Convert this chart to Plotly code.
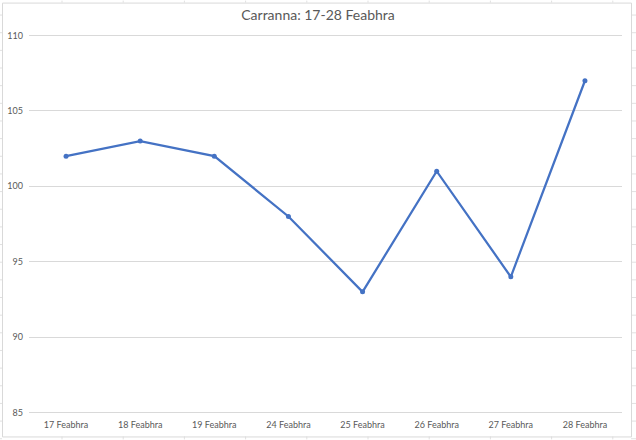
import plotly.graph_objects as go

title_text = "Carranna: 17-28 Feabhra"
categories = ["17 Feabhra", "18 Feabhra", "19 Feabhra", "24 Feabhra",
              "25 Feabhra", "26 Feabhra", "27 Feabhra", "28 Feabhra"]
values = [102, 103, 102, 98, 93, 101, 94, 107]
y_ticks = [85, 90, 95, 100, 105, 110]

W, H = 636, 440
L, R, T, B = 29, 14, 33.5, 25.5
pw, ph = W - L - R, H - T - B

def px(x):
    return (x - L) / pw

def py(y):
    return 1 - (y - T) / ph

fig = go.Figure()
fig.add_trace(go.Scatter(
    x=categories, y=values, mode="lines+markers",
    line=dict(color="#4472C4", width=2.25),
    marker=dict(color="#4472C4", size=5),
    hoverinfo="x+y", showlegend=False,
))

shapes = []
grid_col = "#e1e1e1"
# spreadsheet cell grid visible around the chart
rows = [14.5 + 17.7 * k for k in range(25)]
cols = [62 + 61.2 * k for k in range(10)]
for yy in rows:
    shapes.append(dict(type="line", xref="paper", yref="paper",
                       x0=px(631), x1=px(636), y0=py(yy), y1=py(yy),
                       line=dict(color=grid_col, width=1)))
    shapes.append(dict(type="line", xref="paper", yref="paper",
                       x0=px(0), x1=px(2), y0=py(yy), y1=py(yy),
                       line=dict(color=grid_col, width=1)))
for xx in cols:
    shapes.append(dict(type="line", xref="paper", yref="paper",
                       x0=px(xx), x1=px(xx), y0=py(0), y1=py(2),
                       line=dict(color=grid_col, width=1)))
    shapes.append(dict(type="line", xref="paper", yref="paper",
                       x0=px(xx), x1=px(xx), y0=py(437), y1=py(440),
                       line=dict(color=grid_col, width=1)))
# chart border
shapes.append(dict(type="rect", xref="paper", yref="paper",
                   x0=px(2.5), x1=px(631.5), y0=py(437.5), y1=py(2.5),
                   line=dict(color="#d9d9d9", width=1), layer="above"))

fig.update_layout(
    width=W, height=H,
    margin=dict(l=L, r=R, t=T, b=B, pad=0, autoexpand=False),
    paper_bgcolor="white", plot_bgcolor="white",
    font=dict(family="Lato, 'Open Sans', sans-serif", color="#595959"),
    title=dict(text=title_text, x=0.5, xanchor="center",
               y=1 - 15.5 / H, yanchor="middle",
               font=dict(size=14, color="#595959"),
               automargin=False),
    xaxis=dict(type="category", range=[-0.5, 7.5], showgrid=False,
               showline=False, zeroline=False, ticks="",
               tickfont=dict(size=9, color="#595959"),
               ticklabelstandoff=4, automargin=False, fixedrange=True),
    yaxis=dict(range=[84.9, 110.1], tickvals=y_ticks, showgrid=True,
               gridcolor="#d9d9d9", gridwidth=1, zeroline=False,
               showline=False, ticks="",
               tickfont=dict(size=9, color="#595959"),
               ticklabelstandoff=5, automargin=False, fixedrange=True),
    shapes=shapes,
    hovermode="closest",
)

fig.write_html("out.html",
               config={"displayModeBar": False},
               post_script="document.body.style.margin='0';"
                           "document.body.style.overflow='hidden';")
